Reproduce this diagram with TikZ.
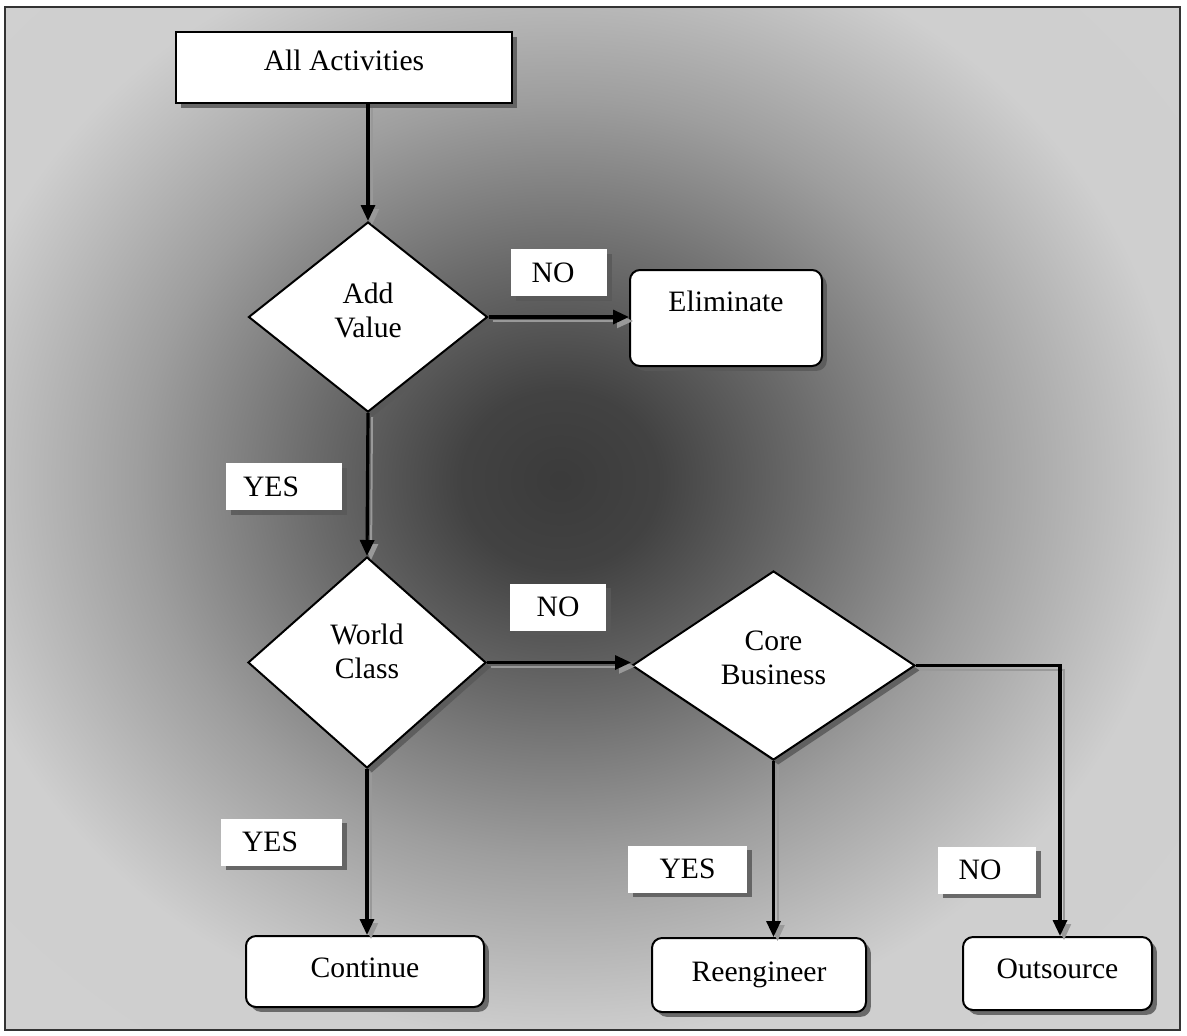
\documentclass[tikz,border=0pt]{standalone}
\usepackage{fontspec}
\setmainfont{Liberation Serif}
\usetikzlibrary{shapes.geometric,shadows,arrows.meta}
% dark glow in the middle of the panel, fading to light grey
\pgfdeclareradialshading{panelglow}{\pgfpoint{0bp}{0bp}}{%
  color(0bp)=(black!77); color(4bp)=(black!74); color(10bp)=(black!58);
  color(17bp)=(black!38); color(25bp)=(black!19); color(50bp)=(black!17)}
\begin{document}
\begin{tikzpicture}[x=0.5pt,y=-0.5pt,
  font=\fontsize{14.8}{17}\selectfont,
  dshadow/.style={drop shadow={shadow xshift=2.4pt,shadow yshift=-2.4pt,fill=black!65,opacity=0.85}},
  box/.style={draw,line width=1pt,fill=white,dshadow,inner sep=0pt,align=center},
  startbox/.style={box,rectangle,minimum width=168pt,minimum height=35.5pt,text height=10pt,text depth=7pt},
  endbox/.style={box,rectangle,rounded corners=5pt},
  decision/.style={box,diamond},
  tag/.style={fill=white,dshadow,inner sep=0pt,minimum height=23.5pt},
  conn/.style={line width=1.6pt,-{Triangle[length=8pt,width=7pt]},
    preaction={draw=black!40,line width=1pt,transform canvas={xshift=2pt,yshift=-2pt}}}]
\useasboundingbox (0,0) rectangle (1187,1035);

% panel with shaded background
\begin{scope}
  \clip (5,7) rectangle (1180,1030);
  \fill[black!17] (5,7) rectangle (1180,1030);
  \shade[shading=panelglow] (-60,-80) rectangle (1180,1040);
\end{scope}
\draw[line width=1pt,black!80] (5,7) rectangle (1180,1030);

% boxes and decisions (struts lift the two-line texts above centre)
\node[startbox] (act) at (344,67.5) {All Activities};
\node[decision,minimum width=119.5pt,minimum height=95pt] (addv) at (368,317)
  {Add\\Value\rule[-7pt]{0pt}{7pt}};
\node[endbox,minimum width=96pt,minimum height=48pt] (elim) at (726,318) {Eliminate\\\mbox{}};
\node[decision,minimum width=119pt,minimum height=105.5pt] (wc) at (367,662.5)
  {World\\Class\rule[-11pt]{0pt}{11pt}};
\node[decision,minimum width=141.5pt,minimum height=94.5pt] (core) at (773.5,665.5)
  {Core\\Business\rule[-8pt]{0pt}{8pt}};
\node[endbox,minimum width=119pt,minimum height=35.5pt,text depth=4pt] (cont) at (365,971.5) {Continue};
\node[endbox,minimum width=107pt,minimum height=37pt] (reeng) at (759,975) {Reengineer};
\node[endbox,minimum width=94.5pt,minimum height=36.5pt,text depth=5pt] (outs) at (1057.5,973.5) {Outsource};

% branch tags (kerns set the words a little left of centre)
\node[tag,minimum width=48pt] (no1) at (559,272.5) {NO\kern6pt};
\node[tag,minimum width=58pt] (yes1) at (284,486.5) {YES\kern13pt};
\node[tag,minimum width=48pt] (no2) at (558,607) {NO};
\node[tag,minimum width=60.5pt] (yes2) at (281.5,842) {YES\kern11.5pt};
\node[tag,minimum width=59.5pt] (yes3) at (687.5,869) {YES};
\node[tag,minimum width=49pt] (no3) at (987,870) {NO\kern7pt};

% connectors
\draw[conn] (addv.north |- act.south) -- (addv.north);
\draw[conn] (addv.east) -- (addv.east -| elim.west);
\draw[conn] (addv.south) -- (wc.north);
\draw[conn] (wc.east) -- (wc.east -| core.west);
\draw[conn] (wc.south) -- (wc.south |- cont.north);
\draw[conn] (core.south) -- (core.south |- reeng.north);
\draw[conn] (core.east) -| ([xshift=1.25pt]outs.north);
\end{tikzpicture}
\end{document}
